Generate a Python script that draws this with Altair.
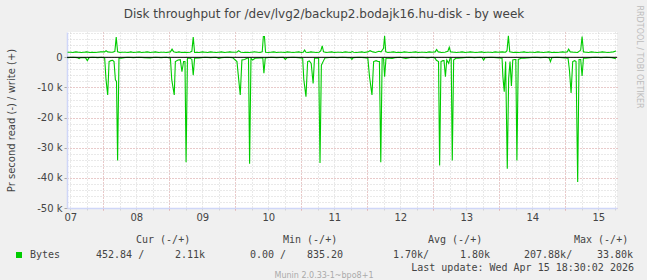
import altair as alt
import pandas as pd

TITLE = "Disk throughput for /dev/lvg2/backup2.bodajk16.hu-disk - by week"
Y_TITLE = "Pr second read (-) / write (+)"
DAY_LABELS = ["07", "08", "09", "10", "11", "12", "13", "14", "15"]
SERIES = "Bytes"
HEADERS = ["Cur (-/+)", "Min (-/+)", "Avg (-/+)", "Max (-/+)"]
STATS = ["452.84 /", "2.11k", "0.00 /", "835.20", "1.70k/", "1.80k", "207.88k/", "33.80k"]
LAST_UPDATE = "Last update: Wed Apr 15 18:30:02 2026"
FOOTER = "Munin 2.0.33-1~bpo8+1"
WATERMARK = "RRDTOOL / TOBI OETIKER"

# hours counted from Apr 07 00:00; values in kB/s
read_hours = [11, 13, 14.5, 15.2, 15.8, 17.5, 18.2, 18.8, 20, 22, 23.5,
              24.5, 25.0, 25.6, 26.1, 26.8, 27.4, 27.9, 28.4, 28.8, 29.2, 29.7, 30.5, 31.5,
              33, 35, 37, 39, 41, 43, 45, 47,
              48.4, 48.9, 49.8, 50.2, 51.2, 52.0, 52.6, 53.2, 53.7, 54.1, 54.6, 55.6, 56.2, 56.7, 57.2,
              59, 61, 63, 65, 66, 67, 69, 71,
              72.6, 73.2, 73.8, 74.4, 75.4, 76.2, 76.8, 77.2, 77.7, 78.3, 79.2, 81, 82.0, 82.4, 82.9,
              85, 87, 89.5, 90.2, 90.8, 93, 95,
              96.5, 96.9, 97.7, 98.3, 98.9, 99.6, 100.3, 100.8, 102.3, 102.8, 103.3, 104.1, 104.6,
              107, 109, 111, 113, 113.9, 114.4, 114.9, 117, 119,
              120.2, 120.8, 121.7, 122.3, 123.2, 123.9, 124.4, 124.9, 125.4, 125.9, 126.3, 126.8,
              128, 129, 130, 132, 134, 136, 138, 140, 142, 143.5,
              144.7, 145.1, 145.9, 146.3, 146.8, 147.5, 147.9, 148.4, 148.9, 149.6, 150.1, 150.5,
              150.9, 151.4, 152.2, 153, 155, 157, 159, 161, 161.8, 162.3, 162.8, 165, 167,
              169.0, 169.3, 169.8, 170.3, 170.9, 171.4, 171.9, 172.4, 172.9, 173.6, 174.0, 174.4,
              174.9, 176, 177, 179, 181, 183, 185, 186.1, 186.6, 187.1, 189, 191,
              193.0, 193.5, 194.1, 194.7, 195.4, 195.9, 196.5, 197.0, 197.6, 198.1, 198.6, 199.5,
              201, 203, 205, 207, 209, 210.4]
read_k = [0.1, 0.0, 0.1, 0.4, 0.1, 0.1, 1.1, 0.1, 0.0, 0.1, 0.0,
          0.3, 7.5, 12.5, 1.4, 1.1, 1.0, 1.4, 7.5, 8.0, 34.2, 0.3, 0.3, 0.1,
          0.0, 0.1, 0.0, 0.1, 0.2, 0.0, 0.1, 0.0,
          0.3, 7.5, 12.5, 1.4, 0.9, 0.8, 4.8, 1.4, 1.4, 34.8, 0.3, 0.3, 0.7, 5.9, 0.3,
          0.2, 0.0, 0.1, 0.0, 0.4, 0.1, 0.0, 0.1,
          1.4, 7.0, 12.5, 0.9, 0.7, 0.3, 0.3, 35.3, 0.3, 0.9, 0.3, 0.2, 0.2, 5.3, 0.2,
          0.0, 0.1, 0.0, 0.7, 0.1, 0.0, 0.1,
          0.3, 7.3, 13.1, 1.4, 1.2, 2.0, 8.7, 0.3, 0.3, 35.1, 2.6, 1.1, 0.2,
          0.0, 0.1, 0.0, 0.1, 0.1, 0.7, 0.1, 0.0, 0.1,
          0.3, 6.4, 12.5, 1.4, 1.1, 1.4, 1.4, 34.8, 0.3, 0.3, 6.4, 0.3,
          0.3, 0.4, 0.1, 0.0, 0.4, 0.0, 0.1, 0.0, 0.2, 0.0,
          0.3, 1.0, 1.4, 35.9, 1.4, 1.1, 1.1, 6.4, 0.9, 2.0, 0.3, 0.3,
          34.2, 0.9, 0.3, 0.3, 0.1, 0.0, 0.1, 0.0, 0.1, 0.9, 0.1, 0.0, 0.1,
          0.3, 6.4, 11.4, 1.4, 37.0, 7.0, 1.4, 9.5, 0.9, 0.7, 0.7, 34.2,
          0.7, 0.3, 0.3, 0.1, 0.0, 0.1, 0.0, 0.2, 1.4, 0.1, 0.0, 0.1,
          0.3, 4.2, 11.8, 1.4, 1.1, 1.4, 41.4, 0.7, 0.7, 6.2, 0.3, 0.3,
          0.1, 0.0, 0.1, 0.0, 0.1, 0.45]

write_hours = [11, 12, 13, 14, 15, 16, 17, 18, 19, 20, 21, 22, 23,
               24.5, 25.0, 25.6, 26.5, 27.5, 28.2, 28.7, 29.2, 30, 31, 32, 33, 34, 35, 36, 37,
               38, 39, 40, 41, 42, 43, 44, 45, 46, 47,
               48.4, 49.0, 49.6, 50.5, 51.5, 52.5, 53.5, 54.5, 55.5, 56.2, 56.7, 57.2, 58, 59,
               60, 61, 62, 63, 64, 65, 66, 67, 68, 69, 70, 71,
               72.6, 73.2, 74, 75, 76, 77, 78, 79, 80, 81, 81.8, 82.2, 82.6, 83.0,
               84, 85, 86, 87, 88, 89, 90, 91, 92, 93, 94, 95, 96,
               96.7, 97.2, 97.7, 98.5, 99.5, 100.5, 101.5, 102.5, 103.1, 103.6, 104.1,
               105, 106, 107, 108, 109, 110, 111, 112, 113, 114, 114.5, 115, 116, 117, 118, 119,
               120.2, 121, 122, 123, 124.2, 125, 125.9, 126.3, 126.7, 127.5, 128.5, 129.5,
               130.5, 131.5, 132.5, 133.5, 134.5, 135.5, 136.5, 137.5, 138.5, 139.5, 140.5,
               141.5, 142.5, 143.5,
               144.7, 145.2, 145.8, 147, 148.2, 149.3, 149.8, 150.3, 151.5, 152.5, 153.5,
               154.5, 155.5, 156.5, 157.5, 158.5, 159.5, 160.5, 161.5, 162.5, 163.5, 164.5,
               165.5, 166.5, 167.5,
               169, 170.3, 170.8, 171.3, 171.8, 173, 174, 175, 176, 177, 178, 179, 180, 181,
               182, 183, 184, 185, 186, 187, 188, 189, 190, 191, 192,
               192.7, 193.2, 193.8, 195, 196.5, 197.6, 198.1, 198.6, 199.5, 200.5, 201.5,
               202.5, 203.5, 204.5, 205.5, 206.5, 207.5, 208.5, 209.5, 210.4]
write_k = [1.7, 1.7, 1.6, 1.8, 1.7, 1.6, 1.7, 1.8, 1.6, 1.7, 1.6, 1.7, 1.8,
           1.8, 2.2, 1.8, 1.7, 1.7, 2.0, 6.7, 1.8, 1.6, 1.7, 1.7, 1.6, 1.8, 1.6, 1.7, 1.8,
           1.6, 1.7, 1.8, 1.6, 1.7, 1.8, 1.6, 1.7, 1.7, 1.6,
           1.8, 2.7, 1.8, 1.6, 1.8, 1.6, 1.7, 1.6, 1.7, 2.0, 6.7, 1.6, 1.7, 1.6,
           1.8, 1.7, 1.6, 1.8, 1.7, 1.6, 1.7, 1.8, 1.6, 1.7, 1.8, 1.7,
           1.7, 2.2, 1.7, 1.6, 1.7, 1.6, 1.7, 1.8, 1.7, 1.6, 1.8, 6.9, 6.9, 1.7,
           1.6, 1.7, 1.8, 1.6, 1.7, 1.7, 1.6, 1.8, 1.7, 1.6, 1.7, 1.8, 1.6,
           1.7, 2.4, 1.7, 1.6, 1.8, 1.7, 1.6, 1.7, 2.2, 3.8, 1.8,
           1.6, 1.7, 1.8, 1.6, 1.7, 1.7, 1.6, 1.8, 1.7, 1.6, 1.9, 1.7, 1.6, 1.7, 1.8, 1.6,
           1.8, 2.2, 1.8, 1.6, 2.0, 1.8, 3.0, 7.1, 1.8, 1.6, 1.7, 1.8,
           1.6, 1.7, 1.6, 1.8, 1.7, 1.6, 1.7, 1.8, 1.6, 1.7, 1.7,
           1.6, 1.8, 1.7,
           1.8, 2.6, 1.8, 1.6, 1.7, 2.0, 3.3, 1.8, 1.7, 1.6, 1.7,
           1.8, 1.6, 1.7, 1.8, 1.7, 1.6, 1.7, 1.8, 1.6, 1.7, 1.7,
           1.6, 1.8, 1.7,
           1.8, 1.7, 2.2, 7.1, 1.8, 1.6, 1.7, 1.6, 1.7, 1.8, 1.6, 1.7, 1.7, 1.6,
           1.8, 1.7, 1.6, 1.7, 1.8, 1.6, 1.7, 1.6, 1.7, 1.8, 1.7,
           1.8, 2.7, 1.8, 1.7, 1.6, 2.4, 6.9, 1.8, 1.7, 1.6, 1.8,
           1.7, 1.6, 1.7, 1.8, 1.7, 1.6, 1.7, 1.8, 2.1]

df = pd.concat([
    pd.DataFrame({"hour": read_hours, "value": [-v * 1000 for v in read_k], "dir": "read"}),
    pd.DataFrame({"hour": write_hours, "value": [v * 1000 for v in write_k], "dir": "write"}),
])
df["name"] = SERIES

GREEN = "#00cc00"
AXIS_C = "#cfd6f8"
MINOR_C = "#d2d2d2"
MAJOR_C = "#e8aaaa"
TEXT_C = "#444444"
FONT = "DejaVu Sans"
MONO = "DejaVu Sans Mono"
PAD_L, PAD_T = 67, 32

xs = alt.Scale(domain=[10.8, 210.8], nice=False, zero=False)
ys = alt.Scale(domain=[-50000, 8400], nice=False, zero=False)

base = alt.Chart(df)

minor = base.mark_line(opacity=0).encode(
    x=alt.X("hour:Q", scale=xs, axis=alt.Axis(
        orient="bottom", values=list(range(12, 211, 6)), grid=True, gridColor=MINOR_C,
        gridDash=[1, 2], labels=False, ticks=True, tickColor=MINOR_C, tickSize=2,
        domain=False, title=None)),
    y=alt.Y("value:Q", scale=ys, axis=alt.Axis(
        orient="left", values=list(range(-48000, 8001, 2000)), grid=True, gridColor=MINOR_C,
        gridDash=[1, 2], labels=False, ticks=False, domain=False, title=None)),
    detail="dir:N",
)

major = base.mark_line(opacity=0).encode(
    x=alt.X("hour:Q", scale=xs, axis=alt.Axis(
        orient="bottom", values=list(range(24, 211, 24)), grid=True, gridColor=MAJOR_C,
        gridDash=[1, 2], labels=False, ticks=True, tickColor=MAJOR_C, tickSize=2,
        domain=False, title=None)),
    y=alt.Y("value:Q", scale=ys, axis=alt.Axis(
        orient="left", values=list(range(-50000, 1, 10000)), grid=True, gridColor=MAJOR_C,
        gridDash=[1, 2], labels=True, ticks=True, tickColor="#aaaaaa", tickSize=3,
        labelPadding=2, labelFont=FONT, labelFontSize=10, labelColor=TEXT_C,
        labelExpr="datum.value == 0 ? '0' : (datum.value / 1000) + ' k'",
        domain=True, domainColor=AXIS_C, domainWidth=1.5,
        title=Y_TITLE, titleFont=FONT, titleFontSize=10, titleFontWeight="normal",
        titleColor=TEXT_C, titleAngle=-90, titleAlign="center", titleBaseline="middle",
        titleX=-56, titleY=88)),
    detail="dir:N",
)

day_expr = "[" + ",".join("'%s'" % d for d in DAY_LABELS) + "][floor(datum.value / 24)]"

lines = base.mark_line(strokeWidth=1.1, interpolate="linear").encode(
    x=alt.X("hour:Q", scale=xs, axis=alt.Axis(
        orient="bottom", values=list(range(12, 211, 24)), grid=False, ticks=False,
        labelExpr=day_expr, labelFont=FONT, labelFontSize=10, labelColor=TEXT_C,
        labelPadding=4, domain=True, domainColor=AXIS_C, domainWidth=1.5, title=None)),
    y=alt.Y("value:Q", scale=ys, axis=None),
    detail="dir:N",
    color=alt.Color("name:N", scale=alt.Scale(domain=[SERIES], range=[GREEN]),
                    legend=alt.Legend(orient="none", legendX=-53, legendY=218, title=None,
                                      symbolType="square", symbolSize=36,
                                      symbolFillColor=GREEN, symbolStrokeWidth=0,
                                      labelFont=MONO, labelFontSize=10, labelColor=TEXT_C,
                                      labelOffset=6, padding=0)),
)

zero = alt.Chart(alt.Data(values=[{}])).mark_rule(color="black", strokeWidth=1).encode(
    y=alt.YDatum(0, scale=ys, axis=None)
)


def txt(s, x, y, align="left", font=MONO, size=10, color=TEXT_C, angle=0):
    return alt.Chart(alt.Data(values=[{}])).mark_text(
        align=align, baseline="middle", font=font, fontSize=size, color=color, angle=angle
    ).encode(x=alt.value(x - PAD_L), y=alt.value(y - PAD_T), text=alt.value(s))


ROW_H, ROW_S, ROW_L, ROW_F = 240, 255, 268, 276

texts = [
    txt(TITLE, 324, 14, align="center", font=FONT, size=12),
    txt(WATERMARK, 639, 57, align="center", font=FONT, size=8, color="#bdbdbd", angle=90),
    txt(HEADERS[0], 136, ROW_H), txt(HEADERS[1], 283, ROW_H),
    txt(HEADERS[2], 428, ROW_H), txt(HEADERS[3], 574, ROW_H),
    txt(STATS[0], 96, ROW_S), txt(STATS[1], 175, ROW_S), txt(STATS[2], 250, ROW_S),
    txt(STATS[3], 307, ROW_S), txt(STATS[4], 393, ROW_S), txt(STATS[5], 460, ROW_S),
    txt(STATS[6], 524, ROW_S), txt(STATS[7], 597, ROW_S),
    txt(LAST_UPDATE, 634, ROW_L, align="right"),
    txt(FOOTER, 324, ROW_F, align="center", font=FONT, size=8, color="#aaaaaa"),
]

chart = alt.layer(minor, major, lines, zero, *texts).resolve_axis(
    x="independent", y="independent"
).properties(
    width=550, height=176,
    padding={"left": PAD_L, "top": PAD_T, "right": 30, "bottom": 72},
    autosize="none", background="#f0f0f0",
).configure_view(fill="white", stroke=None)

chart.save("out.html", embed_options={"renderer": "svg", "actions": False})
